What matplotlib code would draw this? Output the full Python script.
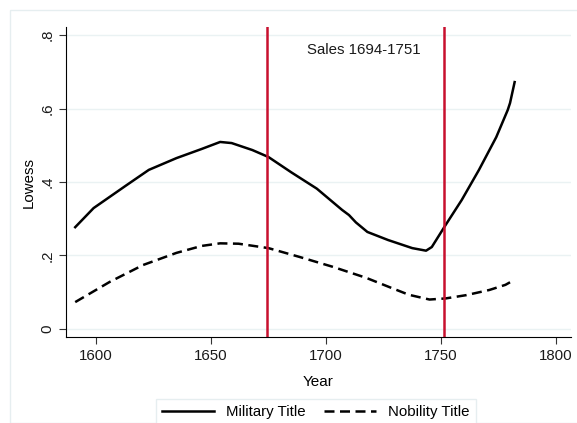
import numpy as np
import matplotlib.pyplot as plt
from matplotlib.patches import Rectangle

plt.rcParams["font.family"] = ["Liberation Sans", "DejaVu Sans"]

# lowess curves
mil_year = [1591, 1599, 1613, 1623, 1635, 1646, 1654, 1659, 1668, 1675, 1685, 1696,
            1707, 1710, 1713, 1718, 1727, 1737.5, 1743.5, 1746, 1752, 1759, 1766.5,
            1774, 1779, 1780, 1782]
mil_val = [0.277, 0.329, 0.39, 0.433, 0.465, 0.49, 0.509, 0.506, 0.487, 0.468, 0.426,
           0.382, 0.324, 0.31, 0.29, 0.264, 0.242, 0.220, 0.213, 0.223, 0.283, 0.351,
           0.433, 0.522, 0.596, 0.615, 0.672]

nob_year = [1591, 1606, 1620.5, 1635, 1646, 1654, 1662, 1675, 1688.5, 1703, 1717.5,
            1727.5, 1736, 1745, 1752, 1761, 1771, 1778, 1780]
nob_val = [0.073, 0.128, 0.174, 0.207, 0.226, 0.233, 0.232, 0.220, 0.196, 0.169, 0.139,
           0.114, 0.093, 0.080, 0.083, 0.092, 0.106, 0.120, 0.127]

sales_lines = [1674.5, 1751.5]
xticks = [1600, 1650, 1700, 1750, 1800]
yticks = [0, 0.2, 0.4, 0.6, 0.8]
ylabels = ["0", ".2", ".4", ".6", ".8"]

fig = plt.figure(figsize=(5.77, 4.23), dpi=100)
fig.patches.append(Rectangle((10/577, 0), 1, 1 - 10/423, transform=fig.transFigure,
                             fill=False, edgecolor="#e6eef0", lw=1))
ax = fig.add_axes([66/577, 1 - 337/423, (571 - 66)/577, (337 - 27)/423])

for y in yticks:
    ax.axhline(y, color="#eaf2f3", lw=1, zorder=0)

ax.plot(mil_year, mil_val, color="black", lw=1.8, label="Military Title")
ax.plot(nob_year, nob_val, color="black", lw=1.8, ls=(0, (4, 2.2)), label="Nobility Title")
for x in sales_lines:
    ax.axvline(x, color="#c8102e", lw=1.8)
ax.text(1716.5, 0.76, "Sales 1694-1751", ha="center", va="center", fontsize=10.8, color="#1a1a1a")

ax.set_xlim(1587, 1806.5)
ax.set_ylim(-0.022, 0.822)
ax.set_xticks(xticks)
ax.set_yticks(yticks)
ax.set_yticklabels(ylabels, rotation=90, va="center")
ax.tick_params(labelsize=10.8, length=5, width=0.8, color="#333333", labelcolor="#1a1a1a")
for s in ["top", "right"]:
    ax.spines[s].set_visible(False)
ax.set_xlabel("Year", fontsize=11, labelpad=9)
ax.set_ylabel("Lowess", fontsize=10.8, labelpad=3)

leg = fig.legend(loc="upper center", bbox_to_anchor=(0.547, 0.057), ncol=2, fontsize=10.8,
                 handlelength=3.5, fancybox=False, edgecolor="#e6eef0", framealpha=1,
                 borderaxespad=0, columnspacing=1.2)

fig.savefig("out.png", dpi=100)
